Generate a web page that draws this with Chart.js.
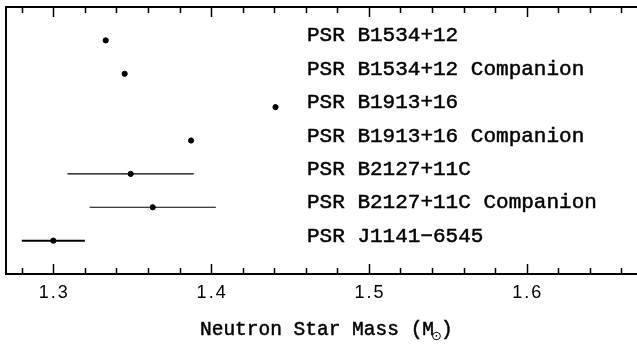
<!DOCTYPE html>
<html><head><meta charset="utf-8">
<script src="https://cdn.jsdelivr.net/npm/chart.js@4/dist/chart.umd.min.js"></script>
<style>html,body{margin:0;padding:0;background:#fff}canvas{display:block}</style>
</head><body>
<canvas id="c" width="637" height="345"></canvas>
<script>
// ---- data ----
const starNames = [
  'PSR B1534+12',
  'PSR B1534+12 Companion',
  'PSR B1913+16',
  'PSR B1913+16 Companion',
  'PSR B2127+11C',
  'PSR B2127+11C Companion',
  'PSR J1141\u22126545'
];
const masses = [1.3332, 1.3452, 1.4408, 1.3873, 1.349, 1.363, 1.30];
const massErrors = [0, 0, 0, 0, 0.040, 0.040, 0.020];
const rowPositions = [7, 6, 5, 4, 3, 2, 1];
const xTickValues = [1.3, 1.4, 1.5, 1.6];
const xTickLabels = ['1.3', '1.4', '1.5', '1.6'];
const xMinorStep = 0.02;
const xAxisTitle = 'Neutron Star Mass (M';
const xAxisTitleSub = '\u2299';
const xMin = 1.27, xMax = 1.6676;
const yMin = 0, yMax = 8;

// ---- datasets ----
const pointData = masses.map((m, i) => ({x: m, y: rowPositions[i]}));
const errorDatasets = [];
masses.forEach((m, i) => {
  if (massErrors[i] > 0) {
    errorDatasets.push({
      type: 'line',
      data: [{x: m - massErrors[i], y: rowPositions[i]}, {x: m + massErrors[i], y: rowPositions[i]}],
      borderColor: '#000',
      borderWidth: i === 6 ? 2 : 1.2,
      pointRadius: 0,
      showLine: true,
      fill: false
    });
  }
});

function heavyText(ctx, s, x, y) {
  ctx.fillText(s, x, y);
  ctx.strokeText(s, x, y);
}

const decorPlugin = {
  id: 'decor',
  afterDraw(chart) {
    const ctx = chart.ctx, a = chart.chartArea;
    const xs = chart.scales.x, ys = chart.scales.y;
    ctx.save();
    ctx.strokeStyle = '#000';
    ctx.lineWidth = 2;
    ctx.beginPath();
    ctx.moveTo(a.left, a.top); ctx.lineTo(chart.width, a.top);
    ctx.moveTo(a.left, a.bottom); ctx.lineTo(chart.width, a.bottom);
    ctx.moveTo(a.left, a.top - 1); ctx.lineTo(a.left, a.bottom + 1);
    ctx.stroke();
    // ticks
    ctx.lineWidth = 1.5;
    const n = Math.round((xMax - xMin) / xMinorStep) + 1;
    for (let k = 0; k <= n; k++) {
      const v = Math.round((1.28 + k * xMinorStep) * 100) / 100;
      if (v > xMax) break;
      const px = Math.round(xs.getPixelForValue(v)) + 0.5;
      const major = xTickValues.some(t => Math.abs(t - v) < 1e-6);
      const len = major ? 10 : 6;
      ctx.beginPath();
      ctx.moveTo(px, a.bottom); ctx.lineTo(px, a.bottom - len);
      ctx.moveTo(px, a.top); ctx.lineTo(px, a.top + len);
      ctx.stroke();
    }
    // tick labels
    ctx.fillStyle = '#000';
    ctx.font = '18px "Liberation Sans", Arial, sans-serif';
    ctx.textAlign = 'center';
    ctx.textBaseline = 'alphabetic';
    if ('letterSpacing' in ctx) ctx.letterSpacing = '2px';
    xTickValues.forEach((v, i) => {
      ctx.fillText(xTickLabels[i], xs.getPixelForValue(v) + 1, a.bottom + 24);
    });
    if ('letterSpacing' in ctx) ctx.letterSpacing = '0px';
    // star names
    ctx.lineWidth = 0.5;
    ctx.font = '21px "Liberation Mono", "Courier New", monospace';
    ctx.textAlign = 'left';
    starNames.forEach((s, i) => {
      heavyText(ctx, s, 307, ys.getPixelForValue(rowPositions[i]) + 1);
    });
    // axis title
    const tf = '19.5px "Liberation Mono", "Courier New", monospace';
    ctx.font = tf;
    const x0 = 200, by = 335;
    heavyText(ctx, xAxisTitle, x0, by);
    const w = ctx.measureText(xAxisTitle).width;
    ctx.font = '13px "DejaVu Sans", sans-serif';
    ctx.fillText(xAxisTitleSub, x0 + w - 3, by + 5);
    const w2 = ctx.measureText(xAxisTitleSub).width;
    ctx.font = tf;
    heavyText(ctx, ')', x0 + w - 4 + w2, by);
    ctx.restore();
  }
};

new Chart(document.getElementById('c'), {
  type: 'scatter',
  data: {
    datasets: [
      ...errorDatasets,
      {
        type: 'scatter',
        data: pointData,
        backgroundColor: '#000',
        borderColor: '#000',
        pointRadius: 2.6,
        pointHoverRadius: 2.6
      }
    ]
  },
  options: {
    responsive: false,
    animation: false,
    events: [],
    layout: {padding: {left: 6, top: 7, right: 0, bottom: 71}},
    plugins: {legend: {display: false}, tooltip: {enabled: false}},
    scales: {
      x: {type: 'linear', min: xMin, max: xMax, display: false},
      y: {type: 'linear', min: yMin, max: yMax, display: false}
    }
  },
  plugins: [decorPlugin]
});
</script>
</body></html>
